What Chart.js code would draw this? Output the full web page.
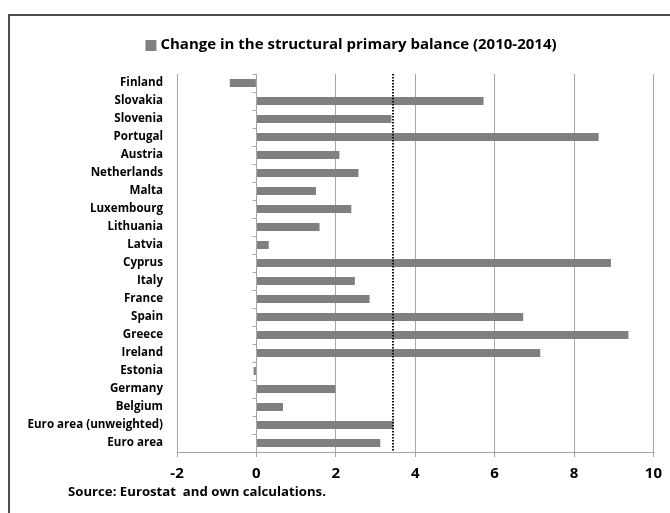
<!DOCTYPE html>
<html>
<head>
<meta charset="utf-8">
<script src="https://cdn.jsdelivr.net/npm/chart.js@4.4.1/dist/chart.umd.min.js"></script>
<style>
  html, body { margin: 0; padding: 0; background: #fff; }
  #wrap { width: 670px; height: 513px; }
</style>
</head>
<body>
<div id="wrap"><canvas id="chart" width="670" height="513"></canvas></div>
<script>
// Change in the structural primary balance, 2010-2014 (pp of GDP)
const countries = [
    'Finland', 'Slovakia', 'Slovenia', 'Portugal', 'Austria', 'Netherlands',
    'Malta', 'Luxembourg', 'Lithuania', 'Latvia', 'Cyprus', 'Italy', 'France',
    'Spain', 'Greece', 'Ireland', 'Estonia', 'Germany', 'Belgium',
    'Euro area (unweighted)', 'Euro area'
];
const balanceChange = [
    -0.67, 5.72, 3.40, 8.62, 2.09, 2.57,
    1.50, 2.39, 1.59, 0.31, 8.93, 2.48, 2.85,
    6.72, 9.37, 7.15, -0.07, 1.99, 0.67,
    3.45, 3.12
];
const seriesLabel = 'Change in the structural primary balance (2010-2014)';
const sourceNote = 'Source: Eurostat  and own calculations.';
const xTicks = [-2, 0, 2, 4, 6, 8, 10];

// the dotted reference line sits at the unweighted euro area average
const refValue = balanceChange[countries.indexOf('Euro area (unweighted)')];

const barColor = '#808080';
const gridColor = '#a6a6a6';
const fontFamily = '"Open Sans", "DejaVu Sans", sans-serif';

// frame, legend, zero axis, dotted line and source note
const extras = {
    id: 'extras',
    beforeDraw(chart) {
        const ctx = chart.ctx;
        ctx.save();
        ctx.fillStyle = '#fff';
        ctx.fillRect(0, 0, chart.width, chart.height);
        // outer frame, runs off the right and bottom edges
        ctx.strokeStyle = '#4d4d4d';
        ctx.lineWidth = 2;
        ctx.beginPath();
        ctx.moveTo(9, chart.height + 5);
        ctx.lineTo(9, 15);
        ctx.lineTo(chart.width + 5, 15);
        ctx.stroke();
        ctx.restore();
    },
    afterDatasetsDraw(chart) {
        const ctx = chart.ctx;
        const xs = chart.scales.x;
        const area = chart.chartArea;
        ctx.save();

        // vertical category axis crossing at zero, with boundary ticks
        const x0 = Math.round(xs.getPixelForValue(0)) + 0.5;
        ctx.strokeStyle = gridColor;
        ctx.lineWidth = 1;
        ctx.beginPath();
        ctx.moveTo(x0, area.top);
        ctx.lineTo(x0, area.bottom);
        const step = (area.bottom - area.top) / countries.length;
        for (let i = 0; i < countries.length; i++) {
            const y = Math.round(area.top + i * step) + 0.5;
            ctx.moveTo(x0 - 4, y);
            ctx.lineTo(x0, y);
        }
        ctx.stroke();

        // dotted line
        const xr = Math.round(xs.getPixelForValue(refValue));
        ctx.strokeStyle = '#111';
        ctx.lineWidth = 2;
        ctx.setLineDash([1.5, 1.5]);
        ctx.beginPath();
        ctx.moveTo(xr, area.top);
        ctx.lineTo(xr, area.bottom);
        ctx.stroke();
        ctx.setLineDash([]);

        // legend
        ctx.font = 'bold 15px ' + fontFamily;
        ctx.textBaseline = 'middle';
        const tw = ctx.measureText(seriesLabel).width;
        const lx = 351 - (tw + 15) / 2;
        ctx.fillStyle = barColor;
        ctx.fillRect(lx, 40, 11, 11);
        ctx.fillStyle = '#000';
        ctx.textAlign = 'left';
        ctx.fillText(seriesLabel, lx + 15, 45);

        // source note
        ctx.font = 'bold 13.2px ' + fontFamily;
        ctx.fillText(sourceNote, 68, 492);
        ctx.restore();
    }
};

new Chart(document.getElementById('chart'), {
    type: 'bar',
    data: {
        labels: countries,
        datasets: [{
            label: seriesLabel,
            data: balanceChange,
            backgroundColor: barColor,
            borderWidth: 0,
            categoryPercentage: 1,
            barPercentage: 0.45
        }]
    },
    options: {
        indexAxis: 'y',
        responsive: false,
        animation: false,
        layout: { padding: { left: 0, right: 13, top: 74, bottom: 0 } },
        plugins: {
            legend: { display: false },
            tooltip: { enabled: false }
        },
        scales: {
            x: {
                min: -2,
                max: 10,
                afterBuildTicks(scale) {
                    scale.ticks = xTicks.map(v => ({ value: v }));
                },
                afterFit(scale) { scale.height = 61; },
                grid: {
                    color: gridColor,
                    lineWidth: 1,
                    drawTicks: true,
                    tickLength: 5
                },
                border: { display: true, color: gridColor, width: 1 },
                ticks: {
                    color: '#000',
                    padding: 8,
                    font: { family: fontFamily, size: 15, weight: 'bold' }
                }
            },
            y: {
                afterFit(scale) { scale.width = 177; },
                grid: { display: false, drawTicks: false },
                border: { display: false },
                ticks: {
                    color: '#000',
                    padding: 14,
                    font: { family: fontFamily, size: 11.6, weight: 'bold' }
                }
            }
        }
    },
    plugins: [extras]
});
</script>
</body>
</html>
